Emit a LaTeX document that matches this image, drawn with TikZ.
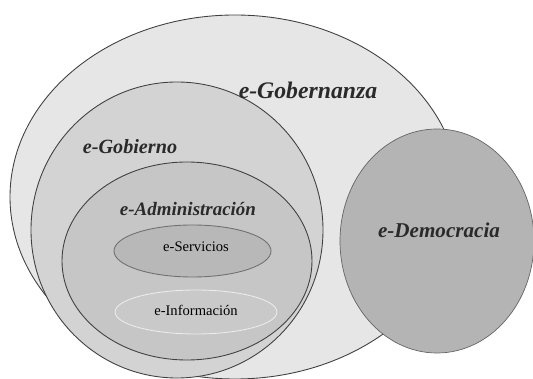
\documentclass[tikz,border=0pt]{standalone}
\usepackage{fontspec}
\setmainfont{Liberation Serif}
\usepackage{tikz}

\definecolor{gobernanzafill}{HTML}{E6E6E6}
\definecolor{gobiernofill}{HTML}{D3D3D3}
\definecolor{adminfill}{HTML}{C6C6C6}
\definecolor{serviciosfill}{HTML}{B8B8B8}
\definecolor{democraciafill}{HTML}{B4B4B4}
\definecolor{rimline}{HTML}{404040}
\definecolor{labeltext}{HTML}{2A2A2A}

\begin{document}
\begin{tikzpicture}[scale=0.2]
\tikzstyle{every node}+=[inner sep=0pt]
\tikzstyle{rim}=[draw=rimline, line width=0.5pt]
\tikzstyle{biglabel}=[text=labeltext, font=\bfseries\itshape]
\tikzstyle{smalllabel}=[text=labeltext, font=\fontsize{8.3}{10}\selectfont]
\useasboundingbox (0,0) rectangle (53.3,-37.9);
\draw [rim, fill=gobernanzafill] (23.5,-19.7) ellipse (22.5 and 18.2);
\draw [rim, fill=gobiernofill] (17.7,-23.0) ellipse (14.6 and 14.8);
\draw [rim, fill=adminfill] (18.7,-26.1) ellipse (12.5 and 9.9);
\draw [rim, draw=rimline!75, fill=serviciosfill] (19.25,-25.1) ellipse (7.85 and 2.6);
\draw [draw=white!85!gray, line width=0.5pt, fill=adminfill!95!white] (19.6,-31.2) ellipse (8.1 and 2.2);
\draw [draw=gray!80!black, line width=0.4pt, fill=democraciafill] (43.7,-24.1) ellipse (9.7 and 11.2);
\draw (30.8,-9.0) node (gobernanza) [biglabel, font=\bfseries\itshape\fontsize{13.5}{16}\selectfont] {e-Gobernanza};
\draw (13.0,-14.7) node (gobierno) [biglabel, font=\bfseries\itshape\fontsize{11.5}{14}\selectfont] {e-Gobierno};
\draw (18.8,-20.9) node (administracion) [biglabel, font=\bfseries\itshape\fontsize{10.8}{13}\selectfont] {e-Administración};
\draw (43.9,-23.0) node (democracia) [biglabel, font=\bfseries\itshape\fontsize{12}{14}\selectfont] {e-Democracia};
\draw (19.6,-24.7) node (servicios) [smalllabel, text=black] {e-Servicios};
\draw (19.6,-31.0) node (informacion) [smalllabel, text=black] {e-Información};
\end{tikzpicture}
\end{document}
